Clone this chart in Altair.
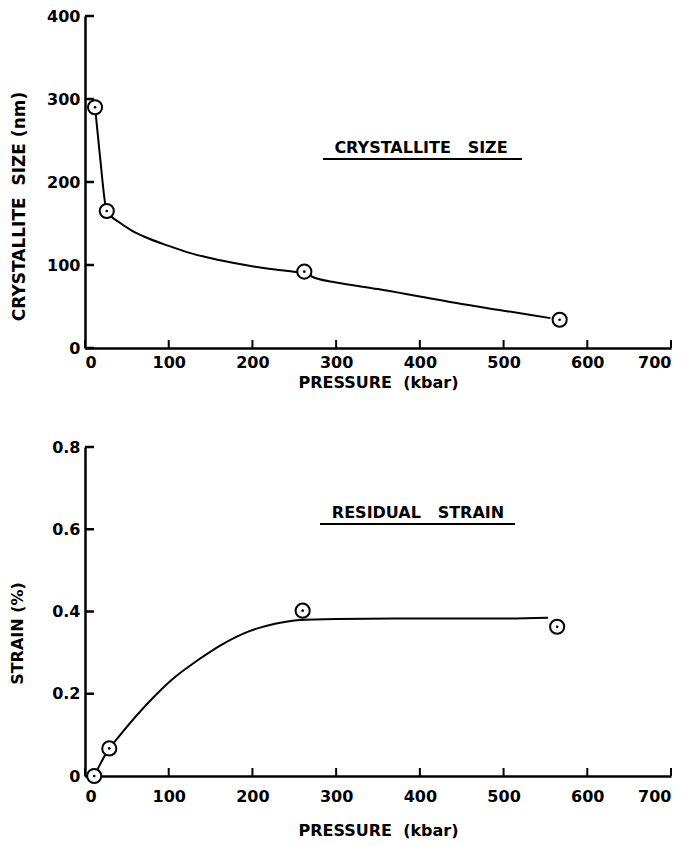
import altair as alt
import pandas as pd

# ---- data ----
size_pressure = [12, 26, 262, 567]
size_nm = [290, 165, 92, 34]
size_curve_p = [12, 18, 26, 40, 55, 71, 100, 127, 160, 203, 240, 262, 276, 300, 350, 400, 450, 500, 556]
size_curve_v = [290, 230, 165, 152, 142, 134, 123, 114, 106, 98, 93, 90, 84, 79, 71, 62, 53, 45, 36]

strain_pressure = [11, 29, 260, 564]
strain_pct = [0.0, 0.067, 0.402, 0.363]
strain_curve_p = [11, 29, 37, 75, 103, 135, 163, 195, 227, 253, 300, 400, 500, 553]
strain_curve_v = [0.0, 0.067, 0.0875, 0.177, 0.233, 0.282, 0.319, 0.351, 0.370, 0.379, 0.382, 0.383, 0.383, 0.385]

x_ticks = [0, 100, 200, 300, 400, 500, 600, 700]
size_ticks = [0, 100, 200, 300, 400]
strain_ticks = [0, 0.2, 0.4, 0.6, 0.8]

W = 586
H1 = 332
H2 = 329
FONT = "DejaVu Sans"
NB = "\u00a0"


def panel(pts_x, pts_y, cur_x, cur_y, y_ticks, y_dom, y_title, label, H, title_x, title_y, ann_x, ann_y, ul_x1, ul_x2, x_lab_pad, x_title_pad, y_fmt, y_title_size):
    pts = pd.DataFrame({"p": pts_x, "v": pts_y})
    cur = pd.DataFrame({"p": cur_x, "v": cur_y})
    xt = pd.DataFrame({"t": x_ticks})
    yt = pd.DataFrame({"t": y_ticks})

    xs = alt.Scale(domain=[0, 700], nice=False, zero=False)
    ys = alt.Scale(domain=y_dom, nice=False, zero=False)

    x_enc = alt.X("p:Q", scale=xs,
                  axis=alt.Axis(values=x_ticks, title=f"PRESSURE{NB}{NB}(kbar)", labelPadding=x_lab_pad,
                                titlePadding=x_title_pad, format="d"))
    y_enc = alt.Y("v:Q", scale=ys,
                  axis=alt.Axis(values=y_ticks, title=y_title, labelPadding=5, labelExpr=y_fmt,
                                titleX=title_x, titleY=title_y, titleFontSize=y_title_size))

    line = alt.Chart(cur).mark_line(color="black", strokeWidth=2, interpolate="monotone").encode(x=x_enc, y=y_enc)
    circ = alt.Chart(pts).mark_point(shape="circle", filled=True, fill="white", stroke="black",
                                      strokeWidth=2, size=200, opacity=1).encode(x="p:Q", y="v:Q")
    dot = alt.Chart(pts).mark_circle(color="black", size=7, opacity=1).encode(x="p:Q", y="v:Q")

    ytick = alt.Chart(yt).mark_rule(color="black", strokeWidth=2.5).encode(
        y=alt.Y("t:Q", scale=ys), x=alt.value(0), x2=alt.value(9))
    xtick = alt.Chart(xt).mark_rule(color="black", strokeWidth=2).encode(
        x=alt.X("t:Q", scale=xs), y=alt.value(H), y2=alt.value(H - 8))

    ann = alt.Chart(pd.DataFrame({"s": [label]})).mark_text(
        font=FONT, fontWeight="bold", fontSize=16, color="black", align="center", baseline="middle"
    ).encode(text="s:N", x=alt.value(ann_x), y=alt.value(ann_y))
    ul = alt.Chart(pd.DataFrame({"s": [label]})).mark_rule(color="black", strokeWidth=2).encode(
        x=alt.value(ul_x1), x2=alt.value(ul_x2), y=alt.value(ann_y + 11))

    return alt.layer(xtick, ytick, line, circ, dot, ann, ul).properties(width=W, height=H)


top = panel(size_pressure, size_nm, size_curve_p, size_curve_v, size_ticks, [0, 400],
            f"CRYSTALLITE{NB}{NB}SIZE{NB}(nm)", f"CRYSTALLITE{NB}{NB}{NB}SIZE", H1, -57, 190,
            336, 132, 238, 437, 6, 4, "format(datum.value, 'd')", 17)

bottom = panel(strain_pressure, strain_pct, strain_curve_p, strain_curve_v, strain_ticks, [0, 0.8],
               f"STRAIN{NB}(%)", f"RESIDUAL{NB}{NB}{NB}STRAIN", H2, -60, 186,
               333, 66, 235, 430, 12, 18, "datum.value == 0 ? '0' : format(datum.value, '.1f')", 16)

chart = alt.vconcat(top, bottom, spacing=49).properties(
    padding={"left": 1, "top": 0, "right": 3, "bottom": 5}
).configure_axis(
    domainColor="black", domainWidth=2.5, grid=False, tickSize=0,
    labelFont=FONT, labelFontWeight="bold", labelFontSize=16, labelColor="black",
    titleFont=FONT, titleFontWeight="bold", titleFontSize=16, titleColor="black",
).configure_view(stroke=None)

chart.save("out.html", embed_options={"renderer": "svg", "actions": False})
